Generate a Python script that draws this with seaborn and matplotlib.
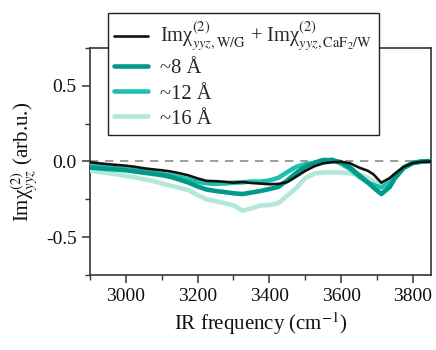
import numpy as np
import pandas as pd
import matplotlib
matplotlib.use("Agg")
import matplotlib.pyplot as plt
from matplotlib.ticker import MultipleLocator
import seaborn as sns

freq = [2900, 2925, 2950, 2975, 3000, 3025, 3050, 3075, 3100, 3125, 3150, 3175,
        3200, 3225, 3250, 3275, 3300, 3325, 3350, 3375, 3400, 3425, 3450, 3475,
        3500, 3525, 3550, 3575, 3600, 3625, 3650, 3675, 3690, 3712, 3735, 3750,
        3775, 3800, 3825, 3850]

sum_wg_caf2 = [-0.005, -0.012, -0.018, -0.023, -0.028, -0.035, -0.045, -0.052, -0.058, -0.066, -0.078, -0.092,
               -0.112, -0.128, -0.130, -0.134, -0.140, -0.136, -0.142, -0.146, -0.150, -0.148, -0.136, -0.100,
               -0.062, -0.032, -0.012, -0.005, -0.002, -0.012, -0.040, -0.062, -0.085, -0.140, -0.110, -0.080,
               -0.035, -0.010, -0.002, 0.000]

d8 = [-0.040, -0.045, -0.050, -0.053, -0.058, -0.066, -0.074, -0.082, -0.090, -0.102, -0.120, -0.140,
      -0.165, -0.185, -0.195, -0.202, -0.210, -0.215, -0.205, -0.195, -0.182, -0.168, -0.125, -0.075,
      -0.035, -0.008, 0.010, 0.008, -0.005, -0.040, -0.090, -0.140, -0.172, -0.215, -0.170, -0.110,
      -0.042, -0.010, 0.000, 0.002]

d12 = [-0.028, -0.034, -0.040, -0.046, -0.052, -0.058, -0.066, -0.074, -0.082, -0.092, -0.104, -0.118,
       -0.135, -0.144, -0.148, -0.145, -0.140, -0.138, -0.132, -0.134, -0.125, -0.108, -0.070, -0.035,
       -0.018, -0.012, -0.005, 0.012, -0.015, -0.050, -0.100, -0.140, -0.155, -0.172, -0.140, -0.090,
       -0.040, -0.008, 0.000, 0.003]

d16 = [-0.060, -0.068, -0.077, -0.085, -0.095, -0.105, -0.118, -0.128, -0.145, -0.160, -0.175, -0.190,
       -0.222, -0.250, -0.262, -0.275, -0.290, -0.325, -0.310, -0.290, -0.288, -0.275, -0.225, -0.175,
       -0.110, -0.080, -0.072, -0.072, -0.072, -0.078, -0.088, -0.110, -0.130, -0.160, -0.130, -0.090,
       -0.035, -0.010, 0.000, 0.003]

labels = [r'Imχ$^{(2)}_{yyz,\mathrm{W/G}}$ + Imχ$^{(2)}_{yyz,\mathrm{CaF_2/W}}$',
          '~8 Å', '~12 Å', '~16 Å']
colors = ['#111111', '#00998a', '#1fc0ae', '#b2e8d9']
widths = [1.9, 3.3, 3.3, 3.3]

sns.set_style('ticks')
plt.rcParams['font.family'] = ['Liberation Serif', 'DejaVu Serif']
plt.rcParams['mathtext.fontset'] = 'stix'

frames = []
for lab, vals in zip(labels, [sum_wg_caf2, d8, d12, d16]):
    frames.append(pd.DataFrame({'freq': freq, 'val': vals, 'series': lab}))
df = pd.concat(frames, ignore_index=True)

fig = plt.figure(figsize=(4.36, 3.5), dpi=100)
ax = fig.add_axes([0.2064, 0.2143, 0.7817, 0.6486])

ax.axhline(0, color='#8c8c8c', lw=1.2, ls=(0, (5, 4)), zorder=1)

order = labels[::-1]
for lab in order:
    i = labels.index(lab)
    sns.lineplot(data=df[df['series'] == lab], x='freq', y='val', ax=ax,
                 color=colors[i], lw=widths[i], label=lab, zorder=3 + (3 - i),
                 solid_capstyle='round')

handles, labs = ax.get_legend_handles_labels()
hmap = dict(zip(labs, handles))
leg = ax.legend([hmap[l] for l in labels], labels, loc='upper left',
                bbox_to_anchor=(0.052, 1.152), borderaxespad=0, fontsize=14.8,
                frameon=True, fancybox=False, edgecolor='#222222',
                handlelength=1.65, handletextpad=0.6, labelspacing=0.28,
                borderpad=0.3)
leg.get_frame().set_linewidth(1.0)
leg.get_frame().set_alpha(1)
leg.set_zorder(10)

ax.set_xlim(2900, 3850)
ax.set_ylim(-0.75, 0.75)
ax.xaxis.set_minor_locator(MultipleLocator(100))
ax.yaxis.set_minor_locator(MultipleLocator(0.25))
ax.set_xticks([3000, 3200, 3400, 3600, 3800])
ax.set_yticks([-0.5, 0.0, 0.5])
ax.set_yticklabels(['-0.5', '0.0', '0.5'])

for s in ax.spines.values():
    s.set_visible(True)
    s.set_color('#333333')
    s.set_linewidth(1.2)

ax.tick_params(axis='both', which='major', direction='out', length=6, width=1.1,
               color='#333333', labelsize=14, labelcolor='#111111',
               top=False, right=False)
ax.tick_params(axis='both', which='minor', direction='out', length=3.5, width=1.0,
               color='#333333', top=False, right=False)

ax.set_xlabel(r'IR frequency (cm$^{\mathrm{-1}}$)', fontsize=15, labelpad=4, color='#111111')
ax.set_ylabel(r'Imχ$^{(2)}_{yyz}$ (arb.u.)', fontsize=15, labelpad=4, color='#111111')

fig.savefig('out.png', dpi=100)
